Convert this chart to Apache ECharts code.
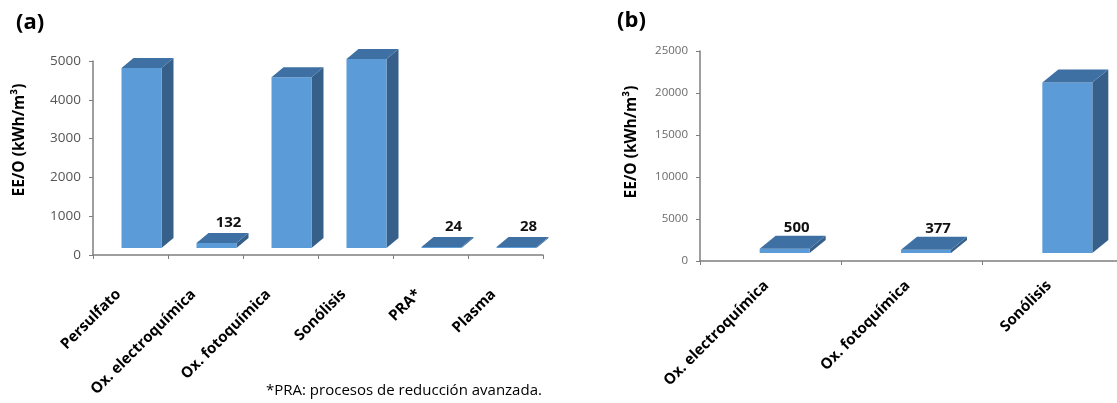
<!DOCTYPE html>
<html>
<head>
<meta charset="utf-8">
<script src="https://cdn.jsdelivr.net/npm/echarts@6/dist/echarts.min.js"></script>
<style>
  html, body { margin: 0; padding: 0; background: #fff; }
  #main { width: 1117px; height: 403px; }
</style>
</head>
<body>
<div id="main"></div>
<script>
// (a) consumo energético por proceso
const categoriasA = ['Persulfato', 'Ox. electroquímica', 'Ox. fotoquímica', 'Sonólisis', 'PRA*', 'Plasma']
const valoresA = [4640, 132, 4400, 4870, 24, 28]
const ticksA = [0, 1000, 2000, 3000, 4000, 5000]

// (b)
const categoriasB = ['Ox. electroquímica', 'Ox. fotoquímica', 'Sonólisis']
const valoresB = [500, 377, 20300]
const ticksB = [0, 5000, 10000, 15000, 20000, 25000]

const FONT = '"Open Sans", "Noto Sans", sans-serif'
const FRONT = '#5b9bd7'
const TOP = '#3f70a3'
const SIDE = '#365f8a'

// geometria de las barras 3D por serie (px)
const geo = [
  {w: 40, off: 11, dx: 12, dy: 10, lift: 7, lx: 6, ly: 3},
  {w: 50, off: 14, dx: 16, dy: 13, lift: 8, lx: 4, ly: 1}
]

const renderBar3d = (params, api) => {
  const g = geo[params.seriesIndex]
  const v = api.value(1)
  const base = api.coord([api.value(0), 0])
  const top = api.coord([api.value(0), v])
  const x0 = base[0] + g.off - g.w / 2
  const x1 = x0 + g.w
  const yb = base[1] - g.lift
  const yt = top[1] - g.lift
  const children = [
    {
      type: 'polygon',
      shape: {points: [[x1, yt], [x1 + g.dx, yt - g.dy], [x1 + g.dx, yb - g.dy], [x1, yb]]},
      style: {fill: SIDE}
    },
    {
      type: 'rect',
      shape: {x: x0, y: yt, width: g.w, height: Math.max(yb - yt, 1)},
      style: {fill: FRONT}
    },
    {
      type: 'polygon',
      shape: {points: [[x0, yt], [x1, yt], [x1 + g.dx, yt - g.dy], [x0 + g.dx, yt - g.dy]]},
      style: {fill: TOP}
    }
  ]
  // solo las barras pequeñas llevan etiqueta
  if (v < 1000) {
    children.push({
      type: 'text',
      style: {
        x: x0 + g.w / 2 + g.dx / 2 + g.lx,
        y: yt - g.dy - g.ly,
        text: String(v),
        fill: '#111',
        font: 'bold 15px ' + FONT,
        align: 'center',
        verticalAlign: 'bottom'
      }
    })
  }
  return {type: 'group', children: children}
}

const xAxisBase = (data, idx, margin, shift) => ({
  type: 'category',
  gridIndex: idx,
  data: data,
  axisLine: {lineStyle: {color: '#7f7f7f', width: 1.5}},
  axisTick: {show: true, length: 4, lineStyle: {color: '#7f7f7f'}},
  axisLabel: {
    rotate: 45,
    interval: 0,
    margin: margin,
    padding: [0, shift, 0, 0],
    color: '#000',
    fontFamily: FONT,
    fontWeight: 'bold',
    fontSize: 15
  }
})

const yAxisBase = (ticks, idx, size, color) => ({
  type: 'value',
  gridIndex: idx,
  min: ticks[0],
  max: ticks[ticks.length - 1],
  interval: ticks[1] - ticks[0],
  splitLine: {show: false},
  axisLine: {show: true, lineStyle: {color: '#7f7f7f', width: 1.5}},
  axisTick: {show: true, length: 4, lineStyle: {color: '#7f7f7f'}},
  axisLabel: {color: color, fontFamily: FONT, fontSize: size, margin: 12, formatter: v => String(v)}
})

const chart = echarts.init(document.getElementById('main'))

chart.setOption({
  animation: false,
  grid: [
    {left: 93, top: 61, width: 450, height: 194, outerBoundsMode: 'none'},
    {left: 700, top: 51, width: 424, height: 210, outerBoundsMode: 'none'}
  ],
  xAxis: [
    xAxisBase(categoriasA, 0, 25, 17),
    xAxisBase(categoriasB, 1, 18, 6)
  ],
  yAxis: [
    yAxisBase(ticksA, 0, 13.5, '#555'),
    yAxisBase(ticksB, 1, 11.5, '#6a6a6a')
  ],
  series: [
    {
      type: 'custom',
      xAxisIndex: 0,
      yAxisIndex: 0,
      renderItem: renderBar3d,
      data: valoresA.map((v, i) => [i, v])
    },
    {
      type: 'custom',
      xAxisIndex: 1,
      yAxisIndex: 1,
      renderItem: renderBar3d,
      data: valoresB.map((v, i) => [i, v])
    }
  ],
  graphic: [
    {type: 'text', left: 16, top: 12, style: {text: '(a)', font: 'bold 22px ' + FONT, fill: '#000'}},
    {type: 'text', left: 617, top: 10, style: {text: '(b)', font: 'bold 22px ' + FONT, fill: '#000'}},
    {
      type: 'text', x: 20, y: 140, rotation: Math.PI / 2,
      style: {text: 'EE/O (kWh/m³)', font: 'bold 15.5px ' + FONT, fill: '#000', align: 'center', verticalAlign: 'middle'}
    },
    {
      type: 'text', x: 632, y: 142, rotation: Math.PI / 2,
      style: {text: 'EE/O (kWh/m³)', font: 'bold 15.5px ' + FONT, fill: '#000', align: 'center', verticalAlign: 'middle'}
    },
    {
      type: 'text', left: 266, top: 383,
      style: {text: '*PRA: procesos de reducción avanzada.', font: '15px ' + FONT, fill: '#000'}
    }
  ]
})
</script>
</body>
</html>
